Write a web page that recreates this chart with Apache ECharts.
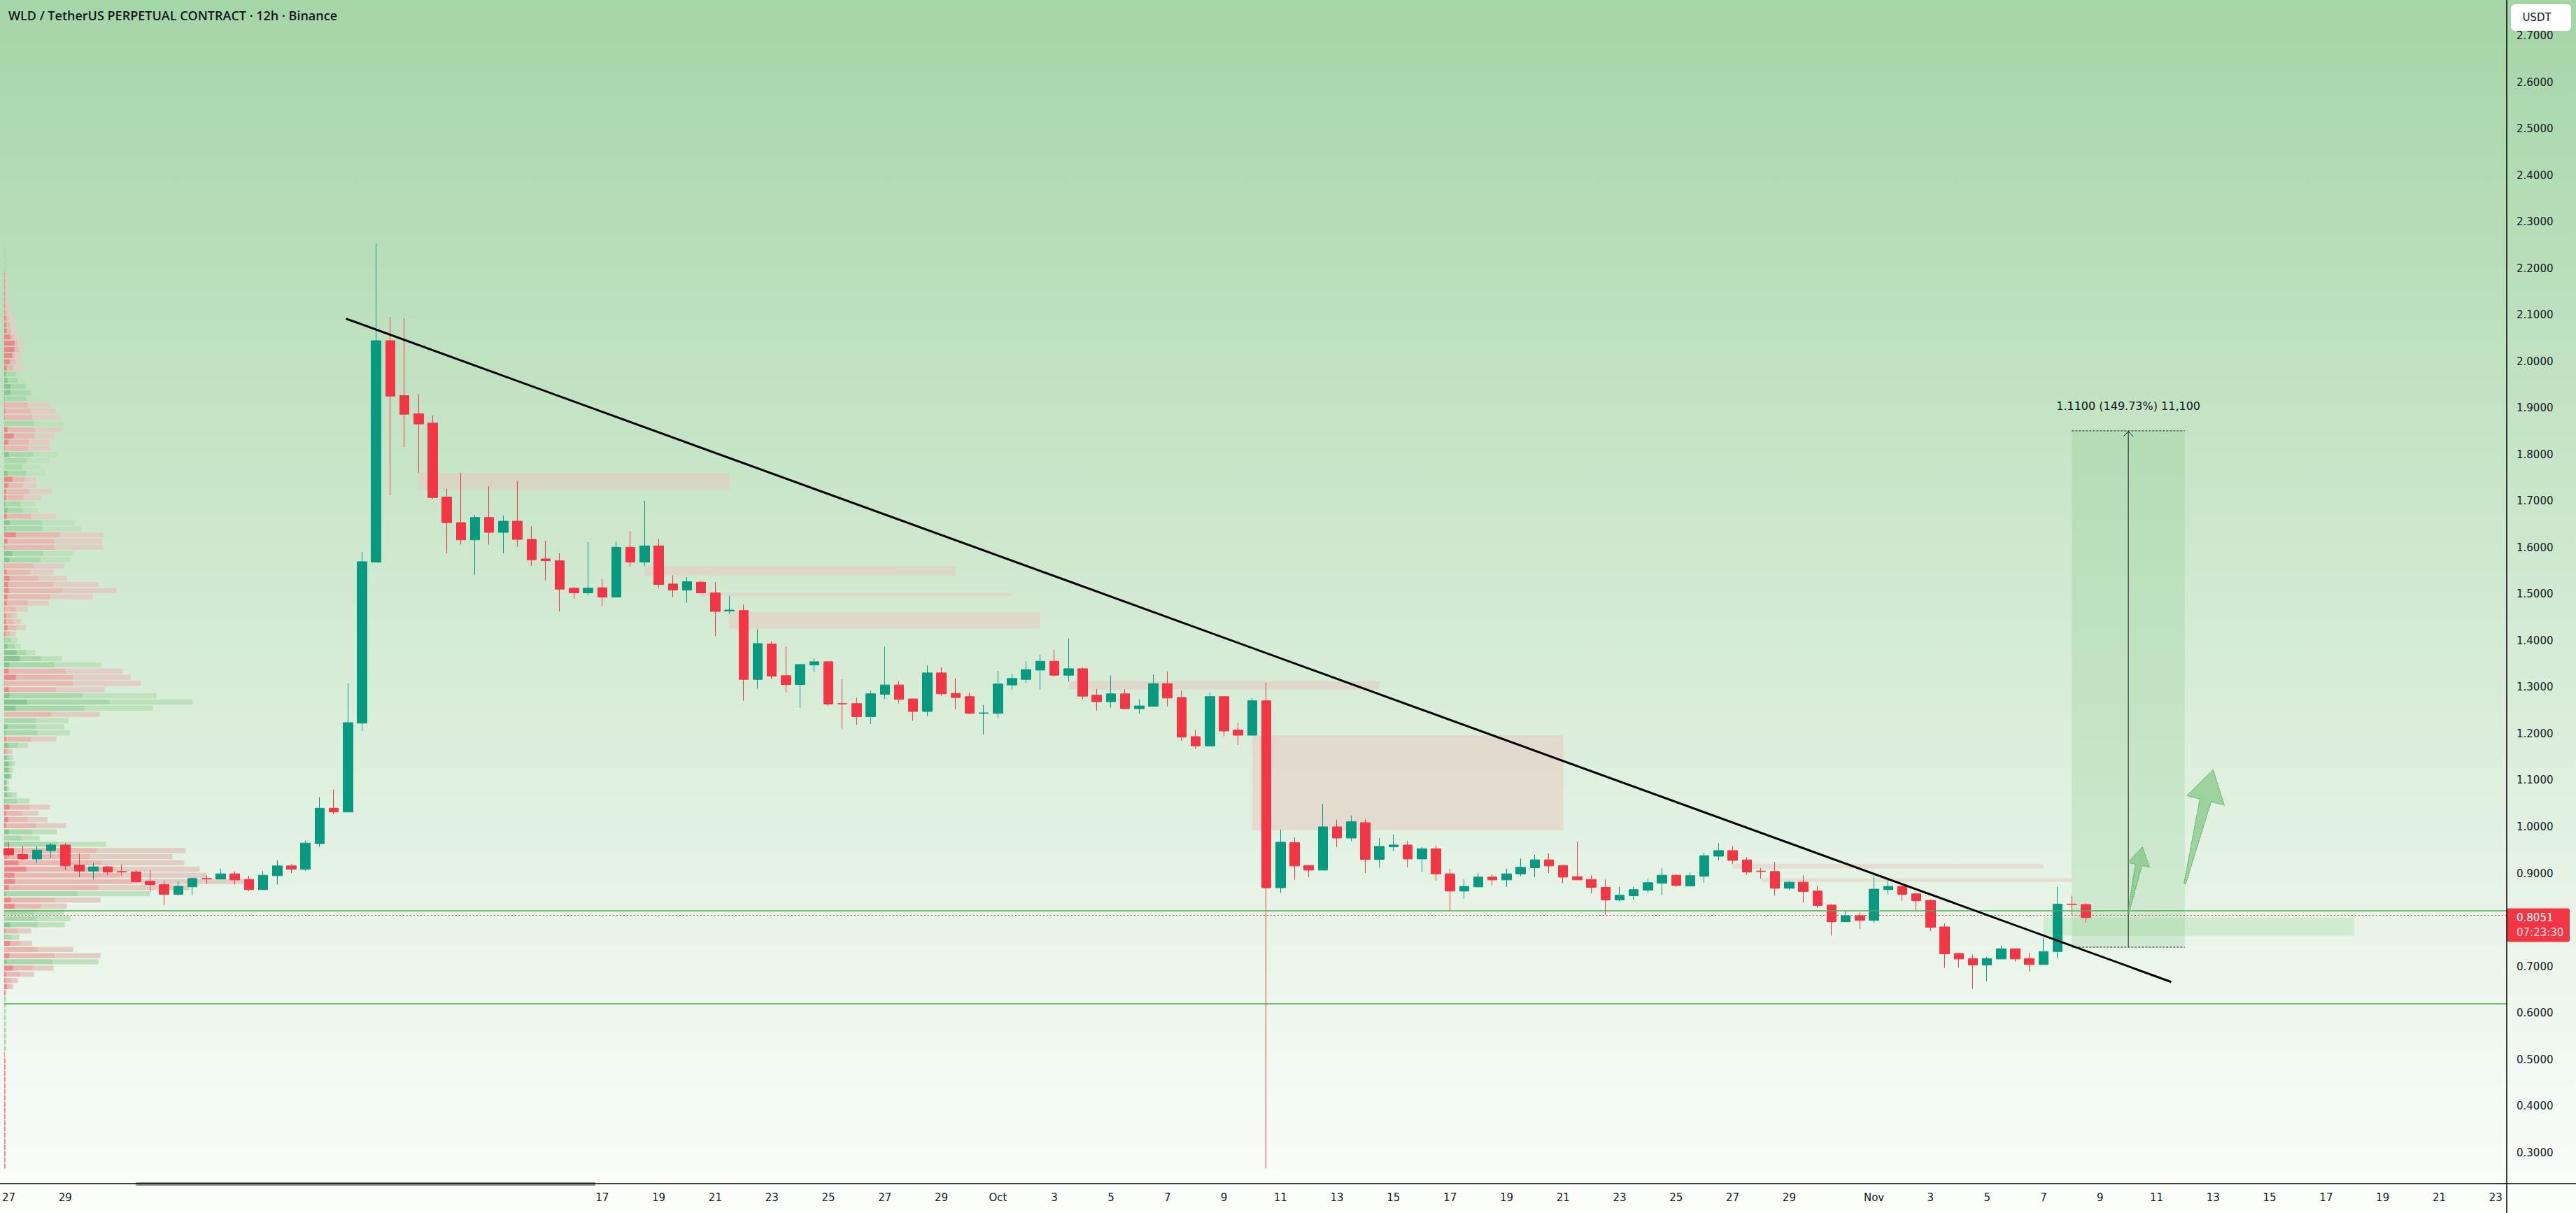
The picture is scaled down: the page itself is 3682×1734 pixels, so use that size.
<!DOCTYPE html>
<html><head><meta charset="utf-8">
<script src="https://cdn.jsdelivr.net/npm/echarts@6.0.0/dist/echarts.min.js"></script>
<style>
html,body{margin:0;padding:0;width:3682px;height:1734px;overflow:hidden;
background:linear-gradient(to bottom,#a5d6a7 0%,#d2ead2 50%,#fcfefc 100%);}
#c{width:3682px;height:1734px;}
</style></head><body><div id="c"></div>
<script>
// ---------- DATA ----------
const SERIES_START = '2025-08-27T00:00:00Z';   // first 12h bar
const BAR_MS = 12 * 3600 * 1000;

const open  = [0.953,0.941,0.931,0.949,0.961,0.918,0.905,0.914,0.904,0.903,0.883,0.876,0.855,0.871,0.889,0.888,0.899,0.887,0.865,0.895,
0.916,0.909,0.964,1.040,1.032,1.223,1.569,2.045,1.927,1.888,1.868,1.709,1.654,1.617,1.665,1.633,1.657,1.618,1.576,1.572,
1.513,1.503,1.514,1.494,1.601,1.569,1.604,1.522,1.509,1.526,1.503,1.464,1.465,1.317,1.393,1.325,1.306,1.348,1.355,1.265,
1.265,1.237,1.285,1.305,1.275,1.248,1.331,1.287,1.280,1.244,1.244,1.305,1.317,1.337,1.356,1.326,1.340,1.283,1.269,1.286,
1.254,1.259,1.308,1.278,1.194,1.174,1.280,1.208,1.197,1.271,0.869,0.966,0.917,0.907,1.000,0.976,1.009,0.930,0.957,0.961,
0.931,0.953,0.899,0.862,0.871,0.892,0.886,0.899,0.912,0.929,0.917,0.893,0.887,0.870,0.843,0.852,0.864,0.879,0.896,0.873,
0.894,0.937,0.949,0.929,0.905,0.904,0.868,0.881,0.862,0.832,0.796,0.809,0.799,0.865,0.872,0.856,0.842,0.785,0.728,0.717,
0.703,0.716,0.738,0.717,0.704,0.732,0.834,0.833];
const high  = [0.968,0.959,0.959,0.965,0.965,0.943,0.923,0.916,0.919,0.907,0.907,0.886,0.883,0.892,0.896,0.910,0.904,0.895,0.905,0.928,
0.920,0.970,1.064,1.080,1.308,1.591,2.254,2.096,2.093,1.930,1.884,1.727,1.761,1.671,1.732,1.669,1.744,1.646,1.615,1.588,
1.516,1.612,1.532,1.614,1.636,1.701,1.619,1.540,1.537,1.528,1.526,1.496,1.478,1.425,1.399,1.388,1.349,1.362,1.356,1.317,
1.278,1.293,1.387,1.314,1.276,1.347,1.343,1.319,1.289,1.262,1.335,1.328,1.356,1.370,1.381,1.405,1.343,1.296,1.325,1.296,
1.274,1.328,1.334,1.293,1.208,1.289,1.281,1.224,1.277,1.310,0.994,0.977,0.917,1.049,1.015,1.024,1.017,0.976,0.984,0.970,
0.957,0.961,0.910,0.887,0.901,0.898,0.910,0.932,0.940,0.943,0.917,0.968,0.896,0.887,0.871,0.871,0.889,0.911,0.898,0.902,
0.944,0.965,0.959,0.935,0.911,0.925,0.883,0.896,0.873,0.834,0.818,0.816,0.895,0.886,0.875,0.859,0.844,0.793,0.728,0.726,
0.721,0.745,0.738,0.729,0.762,0.871,0.852,0.836];
const low   = [0.936,0.929,0.923,0.934,0.907,0.892,0.887,0.896,0.895,0.880,0.860,0.832,0.852,0.853,0.877,0.886,0.876,0.862,0.865,0.876,
0.901,0.905,0.957,1.027,1.032,1.206,1.569,1.713,1.816,1.761,1.705,1.588,1.607,1.542,1.607,1.588,1.602,1.561,1.530,1.463,
1.490,1.497,1.475,1.494,1.559,1.561,1.513,1.494,1.482,1.502,1.410,1.458,1.271,1.297,1.318,1.289,1.256,1.333,1.260,1.211,
1.219,1.221,1.275,1.265,1.228,1.238,1.282,1.253,1.243,1.199,1.234,1.295,1.309,1.295,1.322,1.313,1.274,1.250,1.256,1.253,
1.243,1.259,1.259,1.185,1.167,1.174,1.194,1.176,1.197,0.266,0.858,0.886,0.892,0.907,0.957,0.969,0.901,0.912,0.948,0.913,
0.903,0.884,0.821,0.845,0.870,0.874,0.871,0.894,0.892,0.901,0.879,0.886,0.857,0.811,0.840,0.843,0.858,0.853,0.871,0.873,
0.880,0.928,0.920,0.897,0.889,0.852,0.864,0.837,0.826,0.766,0.795,0.780,0.793,0.855,0.841,0.821,0.776,0.697,0.697,0.652,
0.668,0.716,0.710,0.689,0.704,0.717,0.810,0.794];
const close = [0.940,0.931,0.950,0.961,0.916,0.905,0.914,0.903,0.903,0.882,0.876,0.855,0.872,0.889,0.888,0.899,0.886,0.865,0.896,0.916,
0.909,0.965,1.040,1.032,1.224,1.570,2.045,1.926,1.887,1.866,1.708,1.654,1.617,1.665,1.633,1.657,1.618,1.574,1.572,1.511,
1.503,1.513,1.494,1.601,1.569,1.604,1.521,1.509,1.527,1.503,1.463,1.466,1.317,1.394,1.324,1.306,1.349,1.355,1.264,1.264,
1.237,1.286,1.305,1.274,1.248,1.331,1.286,1.278,1.244,1.245,1.307,1.319,1.338,1.356,1.326,1.340,1.281,1.269,1.286,1.254,
1.260,1.308,1.277,1.193,1.174,1.280,1.206,1.197,1.271,0.869,0.967,0.916,0.907,1.000,0.976,1.011,0.930,0.958,0.961,0.931,
0.953,0.899,0.862,0.872,0.892,0.886,0.899,0.913,0.929,0.916,0.892,0.886,0.870,0.843,0.853,0.865,0.880,0.896,0.874,0.895,
0.938,0.949,0.928,0.903,0.904,0.868,0.881,0.861,0.831,0.796,0.809,0.799,0.866,0.872,0.855,0.841,0.784,0.727,0.716,0.703,
0.717,0.738,0.716,0.704,0.732,0.834,0.833,0.805];

// x-axis tick dates and their labels
const xTickDates = ['2025-08-27','2025-08-29','2025-09-17','2025-09-19','2025-09-21','2025-09-23','2025-09-25','2025-09-27','2025-09-29',
'2025-10-01','2025-10-03','2025-10-05','2025-10-07','2025-10-09','2025-10-11','2025-10-13','2025-10-15','2025-10-17','2025-10-19',
'2025-10-21','2025-10-23','2025-10-25','2025-10-27','2025-10-29','2025-11-01','2025-11-03','2025-11-05','2025-11-07','2025-11-09',
'2025-11-11','2025-11-13','2025-11-15','2025-11-17','2025-11-19','2025-11-21','2025-11-23'];
const xTickLabels = ['27','29','17','19','21','23','25','27','29','Oct','3','5','7','9','11','13','15','17','19',
'21','23','25','27','29','Nov','3','5','7','9','11','13','15','17','19','21','23'];
const yTicks = [0.3,0.4,0.5,0.6,0.7,0.8,0.9,1.0,1.1,1.2,1.3,1.4,1.5,1.6,1.7,1.8,1.9,2.0,2.1,2.2,2.3,2.4,2.5,2.6,2.7];

// volume profile (rows from top, fixed row size), relative volumes
const VP_TOP = 2.2526, VP_STEP = 0.0133;
const vpSide = ('ggggg'+'rrrrrrrrrrrrrrrr'+'ggggg'+'rrr'+'g'+'rrrr'+'gggg'+'rrrr'+'gg'+'r'+'gg'+'rrr'+'gg'+'rrrrrrrrrrrr'+'ggggg'+'rrrr'+'ggg'+'r'+'ggg'+'r'+'g'+'r'+'gggggggg'+'rrrr'+'ggg'+'rrrrrrr'+'g'+'rr'+'ggg'+'r'+'g'+'rrr'+'g'+'rrrrr'+'ggggggggg'+'rrrrrrrrrrrrrrrrrrr').split('');
const vpDark = [0,0,0,0,0,3,3,3,3,3,3,3,9,9,12,27,45,45,36,24,12,9,15,27,27,3,3,6,3,0,15,42,18,3,21,0,0,15,36,18,9,9,6,15,12,24,6,51,15,3,
36,24,3,12,24,18,21,15,12,3,9,9,15,6,3,15,54,69,24,21,51,3,21,24,99,51,0,0,15,6,9,18,6,12,21,18,24,9,12,15,6,24,9,18,9,21,0,18,42,15,
63,96,45,48,21,9,30,45,0,0,27,6,3,27,0,24,12,39,9,6,12,6,0,0,0,0,0,0,0,0,0,3,6,6,6,6,6,6,6,6,6,6,6,6,6,6,6,6,6,6];
const vpMid = [3,6,6,6,6,8,8,8,8,8,10,12,20,25,30,40,55,65,45,48,40,51,57,93,114,96,102,114,123,129,132,130,108,102,126,99,78,96,87,81,108,84,72,81,117,165,168,240,216,216,
168,156,129,114,147,210,252,198,102,51,33,39,54,27,30,45,96,159,219,267,297,297,225,339,456,345,204,138,138,144,117,60,21,24,36,27,33,12,15,33,57,111,78,102,138,123,75,231,399,369,
420,480,500,555,408,318,222,159,129,144,144,60,33,72,147,219,210,126,69,33,27,6,6,6,6,6,6,6,6,6,6,3,6,6,6,6,6,6,6,6,6,6,6,6,6,6,6,6,6,6];
const vpLight = [3,6,6,6,6,15,18,18,18,18,30,33,45,47,53,65,83,83,72,75,84,96,99,165,201,189,198,219,243,258,249,216,198,198,228,195,159,177,138,141,207,159,135,147,222,303,330,426,420,426,
300,285,258,213,270,405,483,381,192,102,54,72,93,51,57,72,135,249,417,510,543,588,432,654,810,639,411,276,258,282,225,102,36,39,48,39,33,21,24,54,108,198,147,186,267,228,153,438,780,723,
774,840,870,1040,795,627,414,270,258,285,261,117,66,120,297,414,405,213,129,60,39,9,9,9,9,9,9,9,9,9,9,3,6,6,6,6,6,6,6,6,6,6,6,6,6,6,6,6,6,6];

// zones: start bar, end bar, top price, bottom price, kind
const zoneFrom   = [29, 49, 45, 51, 75, 88, 122, 124, 144];
const zoneTo     = [51, 71, 67, 73, 97, 110, 144, 146, 166];
const zoneTop    = [1.761, 1.503, 1.561, 1.462, 1.313, 1.197, 0.920, 0.889, 0.8051];
const zoneBottom = [1.726, 1.496, 1.540, 1.426, 1.295, 0.993, 0.910, 0.882, 0.7654];
const zoneKind   = ['s','s','s','s','s','s','s','s','g'];

// horizontal levels
const levelPrices = [0.8161, 0.6177];
const lastPrice = 0.8051;
const lastPriceText = '0.8051';
const countdownText = '07:23:30';

// trend line [bar, price]
const trendLine = [[23.87, 2.0923], [153.04, 0.6666]];

// price-range measurement
const measureFrom = 146, measureTo = 154, measureMid = 150;
const measureLow = 0.7413, measureHigh = 1.8513;
const measureText = '1.1100 (149.73%) 11,100';

// drawn arrows [tail bar, tail price, tip bar, tip price]
const arrows = [[150.0, 0.814, 151.0, 0.957], [154.0, 0.878, 156.0, 1.123]];

// hidden-label smudge on time axis (bar range)
const axisSmudge = [9, 41.5];

// ---------- LAYOUT ----------
const W = 3682, H = 1734;
const GRID = {left: 0, right: 99, top: 0, bottom: 42};
const X_MIN = -0.331, X_MAX = 176.78;
const Y_MIN = 0.2331, Y_MAX = 2.7774;
const UP = '#089981', DOWN = '#f23645';
const TXT = '#131722';
const AXFONT = 'DejaVu Sans';

const startMs = Date.parse(SERIES_START);
const xTickIdx = xTickDates.map(d => Math.round((Date.parse(d + 'T00:00:00Z') - startMs) / BAR_MS));
const candleData = open.map((o, i) => [i, o, close[i], low[i], high[i]]);

const VP_COL = {g: ['#88c793', '#a9d9ab', '#bde2bc'], r: ['#ee8789', '#e8b9b2', '#e1cdc3']};

const chart = echarts.init(document.getElementById('c'), null, {renderer: 'svg', width: W, height: H});

function arrowShape(t, h) {
  const dx = h[0] - t[0], dy = h[1] - t[1];
  const L = Math.sqrt(dx * dx + dy * dy);
  const ux = dx / L, uy = dy / L, nx = -uy, ny = ux;
  const hl = 0.27 * L, hw = 0.165 * L, sw = 0.05 * L, tw = 0.008 * L;
  const bx = h[0] - ux * hl, by = h[1] - uy * hl;
  return [
    [t[0] + nx * tw, t[1] + ny * tw],
    [bx + nx * sw, by + ny * sw],
    [bx + nx * hw, by + ny * hw],
    [h[0], h[1]],
    [bx - nx * hw, by - ny * hw],
    [bx - nx * sw, by - ny * sw],
    [t[0] - nx * tw, t[1] - ny * tw]
  ];
}

const option = {
  animation: false,
  title: {
    text: 'WLD / TetherUS PERPETUAL CONTRACT · 12h · Binance',
    left: 12, top: 13, padding: 0,
    textStyle: {fontFamily: 'Open Sans', fontSize: 18, fontWeight: 600, color: TXT}
  },
  grid: {left: GRID.left, right: GRID.right, top: GRID.top, bottom: GRID.bottom, containLabel: false},
  xAxis: [{
    type: 'value', min: X_MIN, max: X_MAX,
    axisLine: {show: false}, axisTick: {show: false}, splitLine: {show: false},
    axisLabel: {
      customValues: xTickIdx,
      formatter: v => { const k = xTickIdx.indexOf(Math.round(v)); return k >= 0 ? xTickLabels[k] : ''; },
      fontFamily: AXFONT, fontSize: 15, color: TXT, margin: 12
    }
  }, {
    type: 'value', min: 0, max: 10749, show: false
  }],
  yAxis: [{
    type: 'value', position: 'right', min: Y_MIN, max: Y_MAX,
    axisLine: {show: false}, axisTick: {show: false}, splitLine: {show: false},
    axisLabel: {
      customValues: yTicks,
      formatter: v => v.toFixed(4),
      fontFamily: AXFONT, fontSize: 15, color: TXT, margin: 14
    }
  }],
  graphic: [
    {type: 'line', z: 100, shape: {x1: 0, y1: H - GRID.bottom, x2: W, y2: H - GRID.bottom}, style: {stroke: '#000', lineWidth: 1.5}},
    {type: 'line', z: 100, shape: {x1: W - GRID.right, y1: 0, x2: W - GRID.right, y2: H}, style: {stroke: '#000', lineWidth: 1.5}},
    {type: 'rect', z: 100, shape: {x: W - GRID.right + 6, y: 6, width: 86, height: 38, r: 6}, style: {fill: '#ffffff'}},
    {type: 'text', z: 101, x: W - GRID.right + 43, y: 25, style: {text: 'USDT', fill: TXT, fontFamily: AXFONT, fontSize: 15, align: 'center', verticalAlign: 'middle'}}
  ],
  series: [
    { // volume profile
      type: 'custom', name: 'vp', xAxisIndex: 1, yAxisIndex: 0, clip: false, silent: true, z: 1,
      data: vpSide.map((s, k) => [vpLight[k], VP_TOP - k * VP_STEP, k]),
      encode: {x: 0, y: 1},
      renderItem(params, api) {
        const k = api.value(2), price = api.value(1);
        const h = api.size([0, VP_STEP])[1] * 0.82;
        const yc = api.coord([0, price])[1];
        const cols = VP_COL[vpSide[k]];
        const ends = [vpDark[k], vpMid[k], vpLight[k]];
        let prev = 0; const children = [];
        ends.forEach((e, s) => {
          if (e > prev) {
            const a = api.coord([prev, price])[0], b = api.coord([e, price])[0];
            children.push({type: 'rect', shape: {x: a, y: yc - h / 2, width: b - a, height: h}, style: {fill: cols[s]}});
            prev = e;
          }
        });
        return {type: 'group', children};
      }
    },
    { // zones
      type: 'custom', name: 'zones', xAxisIndex: 0, yAxisIndex: 0, clip: false, silent: true, z: 1,
      data: zoneFrom.map((f, k) => [f, zoneTop[k], k]),
      encode: {x: 0, y: 1},
      renderItem(params, api) {
        const k = api.value(2);
        const p1 = api.coord([zoneFrom[k], zoneTop[k]]);
        const p2 = api.coord([zoneTo[k], zoneBottom[k]]);
        return {type: 'rect', shape: {x: p1[0], y: p1[1], width: p2[0] - p1[0], height: p2[1] - p1[1]},
          style: {fill: zoneKind[k] === 'g' ? 'rgba(200,232,200,0.75)' : 'rgba(232,198,190,0.5)'}};
      }
    },
    { // measurement box (behind candles)
      type: 'custom', name: 'measureBox', xAxisIndex: 0, yAxisIndex: 0, clip: false, silent: true, z: 1,
      data: [[measureMid, measureLow]],
      renderItem(params, api) {
        const a = api.coord([measureFrom, measureHigh]);
        const b = api.coord([measureTo, measureLow]);
        return {type: 'rect', shape: {x: a[0], y: a[1], width: b[0] - a[0], height: b[1] - a[1]}, style: {fill: 'rgba(120,195,125,0.22)'}};
      }
    },
    {
      type: 'candlestick', name: 'WLDUSDT', xAxisIndex: 0, yAxisIndex: 0, z: 3,
      data: candleData, encode: {x: 0, y: [1, 2, 3, 4]},
      barWidth: 14,
      itemStyle: {color: UP, color0: DOWN, borderColor: UP, borderColor0: DOWN, borderWidth: 1},
      markLine: {
        silent: true, symbol: ['none', 'none'], label: {show: false}, animation: false,
        data: [
          {yAxis: levelPrices[0], lineStyle: {color: '#4caf50', width: 1.5, type: 'solid'}},
          {yAxis: levelPrices[1], lineStyle: {color: '#4caf50', width: 1.5, type: 'solid'}},
          {yAxis: lastPrice, lineStyle: {color: DOWN, width: 1, type: [2, 3]}}
        ]
      }
    },
    {
      type: 'line', name: 'trend', xAxisIndex: 0, yAxisIndex: 0, z: 6, silent: true,
      data: trendLine, symbol: 'none', lineStyle: {color: '#000', width: 3}
    },
    { // drawings & tags
      type: 'custom', name: 'draw', xAxisIndex: 0, yAxisIndex: 0, clip: false, silent: true, z: 8,
      data: [[measureMid, measureLow]],
      renderItem(params, api) {
        const ch = [];
        const tl = api.coord([measureFrom, measureHigh]);
        const br = api.coord([measureTo, measureLow]);
        const mt = api.coord([measureMid, measureHigh]);
        const mb = api.coord([measureMid, measureLow]);
        ch.push({type: 'line', shape: {x1: tl[0], y1: tl[1], x2: br[0], y2: tl[1]}, style: {stroke: '#222', lineWidth: 1, lineDash: [3, 2]}});
        ch.push({type: 'line', shape: {x1: tl[0], y1: br[1], x2: br[0], y2: br[1]}, style: {stroke: '#222', lineWidth: 1, lineDash: [3, 2]}});
        ch.push({type: 'line', shape: {x1: mb[0], y1: mb[1], x2: mt[0], y2: mt[1]}, style: {stroke: '#111', lineWidth: 1}});
        ch.push({type: 'polyline', shape: {points: [[mt[0] - 7, mt[1] + 8], [mt[0], mt[1] + 1], [mt[0] + 7, mt[1] + 8]]}, style: {stroke: '#111', lineWidth: 1, fill: null}});
        ch.push({type: 'text', x: mt[0], y: mt[1] - 35, style: {text: measureText, fill: TXT, fontFamily: AXFONT, fontSize: 16, align: 'center', verticalAlign: 'middle'}});
        arrows.forEach(a => {
          const t = api.coord([a[0], a[1]]), h = api.coord([a[2], a[3]]);
          ch.push({type: 'polygon', shape: {points: arrowShape(t, h)},
            style: {fill: 'rgba(110,190,115,0.6)', stroke: 'rgba(76,160,80,0.9)', lineWidth: 1, lineDash: [2, 1]}});
        });
        // price tag on the scale
        const lp = api.coord([X_MAX, lastPrice]);
        ch.push({type: 'rect', shape: {x: lp[0], y: lp[1] - 13, width: 90, height: 48, r: 3}, style: {fill: DOWN}});
        ch.push({type: 'text', x: lp[0] + 14, y: lp[1], style: {text: lastPriceText, fill: '#fff', fontFamily: AXFONT, fontSize: 15, align: 'left', verticalAlign: 'middle'}});
        ch.push({type: 'text', x: lp[0] + 14, y: lp[1] + 21, style: {text: countdownText, fill: 'rgba(255,255,255,0.85)', fontFamily: AXFONT, fontSize: 15, align: 'left', verticalAlign: 'middle'}});
        // smudge over hidden time labels
        const s1 = api.coord([axisSmudge[0], Y_MIN]), s2 = api.coord([axisSmudge[1], Y_MIN]);
        ch.push({type: 'rect', shape: {x: s1[0], y: s1[1] - 2, width: s2[0] - s1[0], height: 5}, style: {fill: 'rgba(110,118,110,0.75)'}});
        return {type: 'group', children: ch};
      }
    }
  ]
};
chart.setOption(option);
</script></body></html>
